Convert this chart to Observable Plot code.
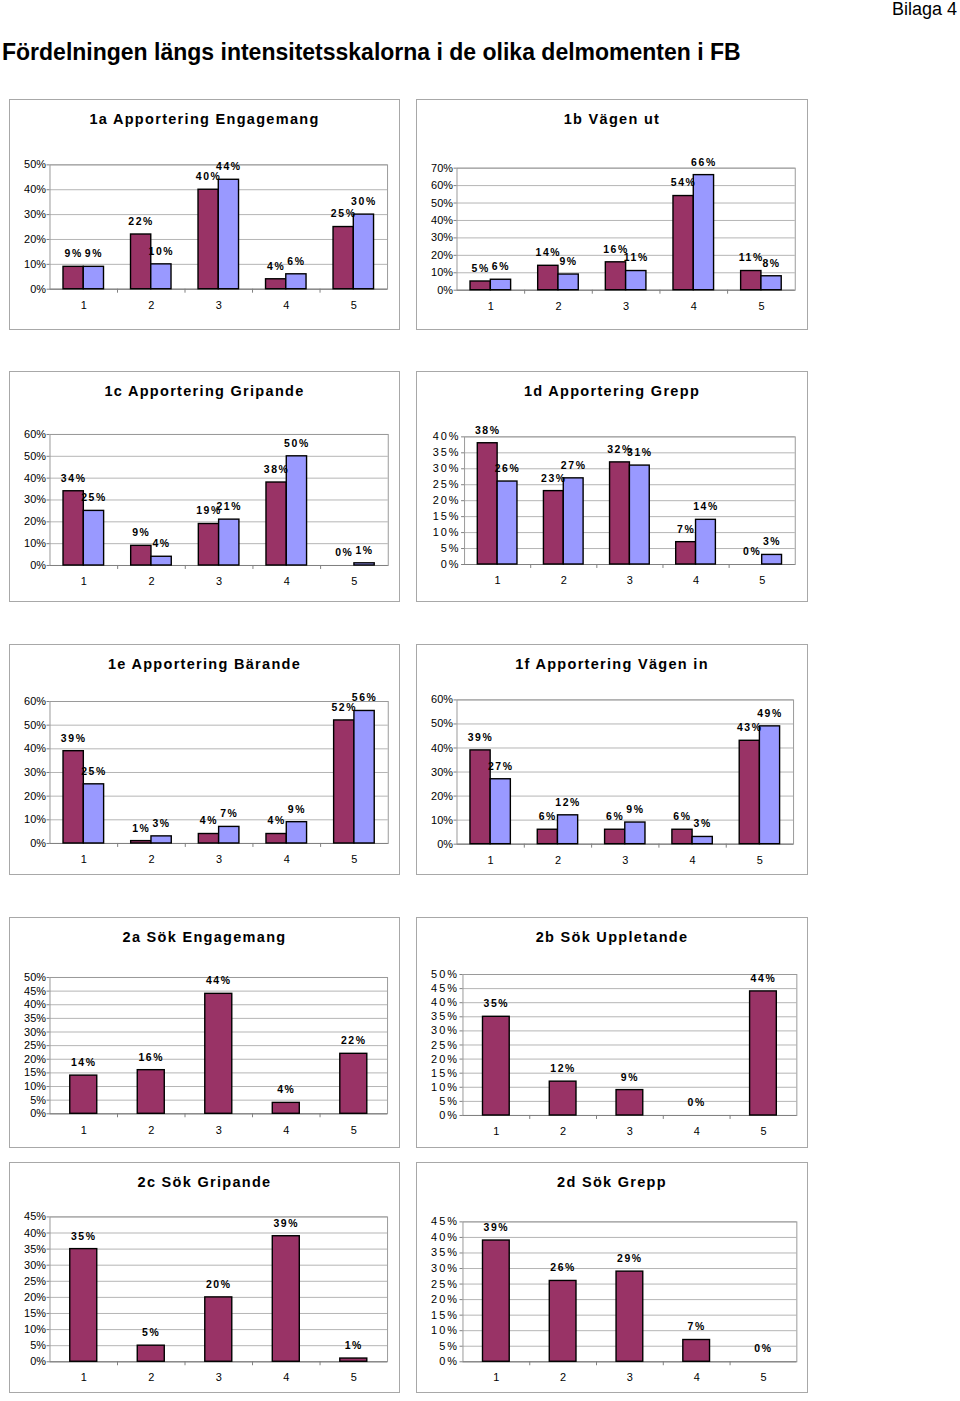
<!DOCTYPE html>
<html>
<head>
<meta charset="utf-8">
<script src="https://cdn.jsdelivr.net/npm/d3@7"></script>
<script src="https://cdn.jsdelivr.net/npm/@observablehq/plot@0.6"></script>
<style>
  html, body { margin: 0; padding: 0; background: #fff; }
  body { width: 960px; height: 1401px; position: relative; font-family: "Liberation Sans", Arial, sans-serif; color: #000; }
  #bilaga { position: absolute; right: 3px; top: 0px; font-size: 18px; line-height: 18px; }
  #title { position: absolute; left: 2px; top: 40px; font-size: 23px; line-height: 24px; font-weight: bold; white-space: nowrap; }
  .box { position: absolute; box-sizing: border-box; border: 1px solid #a8a8a8; }
  .ptitle { position: absolute; left: 0; right: 0; top: 10px; text-align: center; font-size: 14.5px; line-height: 18px; font-weight: bold; letter-spacing: 1.3px; white-space: nowrap; }
  .box svg { position: absolute; left: 0; top: 0; overflow: visible; }
  svg g[aria-label="text"] text { letter-spacing: 1.6px; }
  svg.spaced g[aria-label="y-axis tick label"] text { letter-spacing: 2px; }
</style>
</head>
<body>
<div id="bilaga">Bilaga 4</div>
<div id="title">Fördelningen längs intensitetsskalorna i de olika delmomenten i FB</div>
<script>
// ---------------- data ----------------
const categories = [1, 2, 3, 4, 5];
const panelTitles = [
  "1a Apportering Engagemang", "1b Vägen ut",
  "1c Apportering Gripande", "1d Apportering Grepp",
  "1e Apportering Bärande", "1f Apportering Vägen in",
  "2a Sök Engagemang", "2b Sök Uppletande",
  "2c Sök Gripande", "2d Sök Grepp"
];
const yMaxPct = [50, 70, 60, 40, 60, 60, 50, 50, 45, 45];
const yStepPct = [10, 10, 10, 5, 10, 10, 5, 5, 5, 5];

const v1a_1 = [9, 22, 40, 4, 25];
const v1a_2 = [9, 10, 44, 6, 30];
const v1b_1 = [5, 14, 16, 54, 11];
const v1b_2 = [6, 9, 11, 66, 8];
const v1c_1 = [34, 9, 19, 38, 0];
const v1c_2 = [25, 4, 21, 50, 1];
const v1d_1 = [38, 23, 32, 7, 0];
const v1d_2 = [26, 27, 31, 14, 3];
const v1e_1 = [39, 1, 4, 4, 52];
const v1e_2 = [25, 3, 7, 9, 56];
const v1f_1 = [39, 6, 6, 6, 43];
const v1f_2 = [27, 12, 9, 3, 49];
const v2a = [14, 16, 44, 4, 22];
const v2b = [35, 12, 9, 0, 44];
const v2c = [35, 5, 20, 39, 1];
const v2d = [39, 26, 29, 7, 0];

const seriesA = [v1a_1, v1b_1, v1c_1, v1d_1, v1e_1, v1f_1, v2a, v2b, v2c, v2d];
const seriesB = [v1a_2, v1b_2, v1c_2, v1d_2, v1e_2, v1f_2, null, null, null, null];

// ---------------- layout (page px) ----------------
const boxLeft = [9, 416];
const boxWidth = [391, 392];
const boxTop = [99, 371, 644, 917, 1162];
const boxHeight = 231;
// plot frame rectangles: [left, top, right, bottom]
const frames = [
  [49.7, 164.7, 389, 289.7], [456.7, 168, 796.7, 290.7],
  [49.7, 434.3, 389.7, 566], [464.3, 436.7, 796.7, 565],
  [49.7, 701.3, 389.7, 844], [456.7, 699.7, 795, 844.7],
  [49.7, 977.3, 389, 1114.3], [462.7, 974.3, 798.3, 1116],
  [49.7, 1216.7, 389, 1362.3], [462.7, 1221.7, 798.3, 1362.3]
];
const spacedY = [false, false, false, true, false, false, false, true, false, true];

const colMaroon = "#993366";
const colBlue = "#9999FF";

panelTitles.forEach((title, i) => {
  const col = i % 2, row = Math.floor(i / 2);
  const bx = boxLeft[col], by = boxTop[row], bw = boxWidth[col], bh = boxHeight;
  const [fl, ft, fr, fb] = frames[i];

  const box = document.createElement("div");
  box.className = "box";
  box.style.left = bx + "px";
  box.style.top = by + "px";
  box.style.width = bw + "px";
  box.style.height = bh + "px";
  document.body.appendChild(box);

  const two = seriesB[i] !== null;
  const rows = [];
  categories.forEach((c, k) => {
    rows.push({c, s: 0, v: seriesA[i][k]});
    if (two) rows.push({c, s: 1, v: seriesB[i][k]});
  });
  const x1 = d => two ? d.c - 0.3 + d.s * 0.3 : d.c - 0.2;
  const x2 = d => two ? d.c + d.s * 0.3 : d.c + 0.2;
  const xc = d => two ? d.c - 0.15 + d.s * 0.3 : d.c;

  const yTicks = d3.range(0, yMaxPct[i] + 0.001, yStepPct[i]);
  const boundaries = categories.slice(1).map(c => c - 0.5);

  const chart = Plot.plot({
    width: bw,
    height: bh,
    marginLeft: fl - bx,
    marginRight: bx + bw - fr,
    marginTop: ft - by,
    marginBottom: by + bh - fb,
    className: spacedY[i] ? "spaced" : "plain",
    style: {fontFamily: "'Liberation Sans', Arial, sans-serif", fontSize: "11px", color: "#000", background: "none", overflow: "visible"},
    x: {type: "linear", domain: [0.5, 5.5], axis: null},
    y: {domain: [0, yMaxPct[i]], axis: null},
    marks: [
      Plot.gridY({ticks: yTicks, stroke: "#b4b4b4", strokeOpacity: 1}),
      Plot.frame({stroke: "#9a9a9a"}),
      Plot.ruleY([0], {stroke: "#808080"}),
      Plot.axisY({ticks: yTicks, tickFormat: d => d + "%", tickSize: 3, tickPadding: 1, stroke: "#808080", fill: "#000", fontSize: 11, label: null}),
      Plot.axisX({ticks: boundaries, tickSize: 4, tickFormat: () => "", stroke: "#808080", label: null}),
      Plot.axisX({ticks: categories, tickSize: 0, tickPadding: 12, tickFormat: d => String(d), fill: "#000", fontSize: 11, label: null}),
      Plot.rectY(rows.filter(d => d.v > 0), {
        x1, x2, y1: 0, y2: "v",
        fill: d => d.s ? colBlue : colMaroon,
        stroke: "#000", strokeWidth: 1.4
      }),
      Plot.text(rows, {
        x: xc, y: "v", text: d => d.v + "%", dy: -13,
        fontWeight: "bold", fontSize: 10.5, fill: "#000"
      })
    ]
  });
  box.appendChild(chart);
  // the svg is positioned relative to the box's padding edge; offset for the border
  chart.style.left = "-1px";
  chart.style.top = "-1px";

  const t = document.createElement("div");
  t.className = "ptitle";
  t.textContent = title;
  box.appendChild(t);
});
</script>
</body>
</html>
